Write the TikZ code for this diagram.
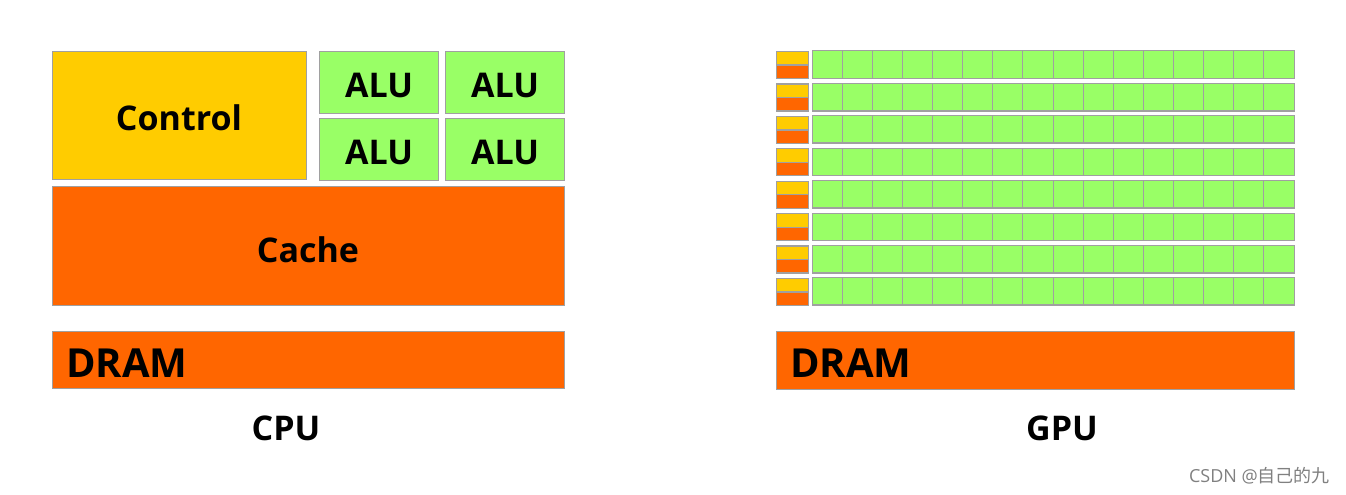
\documentclass[tikz,border=0pt]{standalone}
\usepackage{fontspec}
\setmainfont{Open Sans}
\newfontfamily\cjkfont{Noto Sans CJK SC}
\definecolor{ctlY}{HTML}{FFCC00}
\definecolor{cacheO}{HTML}{FF6600}
\definecolor{aluG}{HTML}{99FF66}
\definecolor{edgeG}{HTML}{A0A0A0}
\begin{document}
\begin{tikzpicture}[x=1pt,y=-1pt,
  blk/.style={draw=edgeG,line width=1.2pt,rectangle,inner sep=0pt,anchor=north west},
  lbl/.style={font=\fontsize{34}{34}\selectfont\bfseries,inner sep=0pt},
  bigl/.style={font=\fontsize{40}{40}\selectfont\bfseries,inner sep=0pt},
  cell/.style={draw=edgeG,line width=1pt,fill=aluG}]
\useasboundingbox (0,0) rectangle (1346,495);
% CPU
\node[blk,fill=ctlY,minimum width=254pt,minimum height=128pt] (ctl) at (52,51) {};
\node[lbl] (ctlt) at (179,118) {Control};
\node[blk,fill=aluG,minimum width=119pt,minimum height=62pt] (alu1) at (319,51) {};
\node[blk,fill=aluG,minimum width=119pt,minimum height=62pt] (alu2) at (445,51) {};
\node[blk,fill=aluG,minimum width=119pt,minimum height=62pt] (alu3) at (319,118) {};
\node[blk,fill=aluG,minimum width=119pt,minimum height=62pt] (alu4) at (445,118) {};
\node[lbl,yshift=-3pt] (alu1t) at (alu1.center) {ALU};
\node[lbl,yshift=-3pt] (alu2t) at (alu2.center) {ALU};
\node[lbl,yshift=-3pt] (alu3t) at (alu3.center) {ALU};
\node[lbl,yshift=-3pt] (alu4t) at (alu4.center) {ALU};
\node[blk,fill=cacheO,minimum width=512pt,minimum height=119pt] (cache) at (52,186) {};
\node[lbl] (cachet) at (308,250) {Cache};
\node[blk,fill=cacheO,minimum width=512pt,minimum height=57pt] (dram1) at (52,331) {};
\node[bigl,anchor=west] (dram1t) at (66,363) {DRAM};
\node[lbl] (cpu) at (286,428) {CPU};
% GPU
\foreach \r in {0,...,7}{
  \pgfmathsetmacro{\yy}{51+32.4*\r}
  \node[blk,fill=ctlY,minimum width=32pt,minimum height=13.5pt] (gc\r) at (776,\yy) {};
  \node[blk,fill=cacheO,minimum width=32pt,minimum height=13.5pt] (gk\r) at (776,\yy+13.5) {};
  \node[blk,fill=aluG,minimum width=482pt,minimum height=27pt] (gr\r) at (812,\yy) {};
  \foreach \c in {0,...,15}{
    \pgfmathsetmacro{\xx}{812+30.125*\c}
    \draw[cell] (\xx,\yy) rectangle ++(30.125,27);
  }
}
\node[blk,fill=cacheO,minimum width=518pt,minimum height=58pt] (dram2) at (776,331) {};
\node[bigl,anchor=west] (dram2t) at (790,363) {DRAM};
\node[lbl] (gpu) at (1062,428) {GPU};
\node[font=\fontsize{18}{18}\selectfont,text=gray,inner sep=0pt,anchor=east] (wm) at (1330,476) {CSDN @{\cjkfont 自己的九}};
\end{tikzpicture}
\end{document}
